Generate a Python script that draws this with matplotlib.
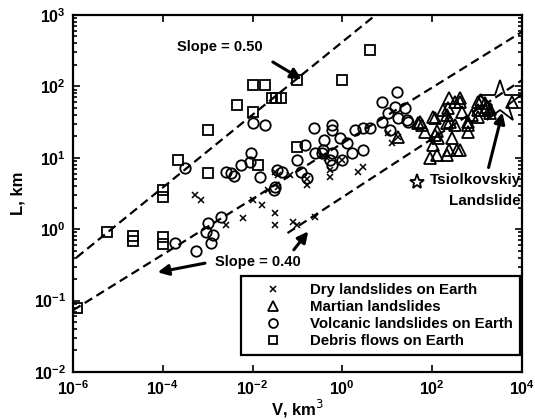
import numpy as np
import matplotlib.pyplot as plt
from matplotlib.ticker import LogLocator, NullLocator, NullFormatter, FixedLocator

plt.rcParams['font.family'] = ['Liberation Sans', 'DejaVu Sans']

# debris flows on Earth (squares)
debris_v = [1.2e-6, 5.7e-6, 2.2e-5, 2.2e-5, 1e-4, 1e-4, 1e-4, 1e-4, 2.2e-4, 1e-3,
            1e-3, 4.5e-3, 1e-2, 1.9e-2, 1e-2, 1.3e-2, 2.7e-2, 3.3e-2, 4.2e-2, 0.1,
            0.1, 1.0, 4.1]
debris_l = [0.08, 0.9, 0.8, 0.68, 0.78, 0.62, 3.5, 2.8, 9.3, 24.5,
            6.2, 55, 105, 105, 44, 8, 69, 69, 69, 124,
            14, 124, 325]

# volcanic landslides on Earth (circles)
volc_v = [1.9e-4, 3.1e-4, 5.5e-4, 9e-4, 1e-3, 1.3e-3, 1.2e-3, 2e-3, 3.3e-3, 3.8e-3,
          5.5e-3, 8.7e-3, 9e-3, 1e-2, 1.9e-2, 1.5e-2, 2.5e-3, 0.045, 0.032, 0.03,
          0.12, 0.16, 0.1, 0.15, 0.25, 0.37, 0.38, 0.6, 0.23, 0.36,
          0.6, 16.6, 7.6, 14.8, 24.5, 10.5, 7.6, 17.4, 27.5, 11.5,
          2.9, 1.9, 4.1, 0.59, 0.9, 1.26, 2.9, 1.6, 0.59, 0.98,
          0.52, 0.035, 28.8]
volc_l = [0.65, 7.2, 0.49, 0.91, 1.23, 0.83, 0.65, 1.48, 6.2, 5.6,
          8.0, 8.8, 11.6, 31, 29, 5.3, 6.3, 6.3, 3.9, 3.5,
          6.3, 5.2, 9.3, 15, 11.7, 13, 18, 29, 26, 11.7,
          8.0, 83, 60, 51, 50, 43, 32, 36, 34, 24.6,
          26, 24.5, 26, 24.5, 19, 16, 13, 11.7, 11.7, 9.3,
          9.3, 6.8, 32]

# dry landslides on Earth (crosses)
dry_v = [5.2e-4, 7e-4, 2.6e-3, 6.2e-3, 1.6e-2, 1e-2, 0.032, 0.032, 0.08, 0.1,
         0.25, 0.022, 0.037, 0.032, 0.037, 0.068, 0.16, 0.16, 0.45, 0.39,
         2.2, 2.9, 12.5, 10.5, 17.4, 0.52, 0.98, 0.52]
dry_l = [3.0, 2.6, 1.15, 1.45, 2.2, 2.6, 1.7, 1.15, 1.26, 1.15,
         1.48, 3.5, 3.9, 6.3, 5.8, 5.8, 4.2, 5.0, 10, 10.5,
         6.3, 7.5, 16, 22, 19.5, 6.8, 9.3, 5.3]

# Martian landslides (triangles)
mars_v = [48, 69, 105, 105, 135, 174, 214, 275, 129, 214,
          355, 417, 316, 417, 457, 776, 631, 631, 1047, 1047,
          1514, 1950, 1660, 224, 126, 89, 117, 214, 316, 251,
          115, 240, 417, 631, 1047, 1514, 1250, 1950, 6000, 17.4,
          54, 60, 240]
mars_l = [31, 23, 37, 15, 19, 46, 31, 19, 11, 11,
          13, 13, 60, 69, 44, 40, 29, 23, 60, 47,
          58, 42, 51, 50, 24, 10, 36, 40, 29, 32,
          21, 69, 60, 32, 37, 47, 64, 48, 60, 19.5,
          32, 29, 13]

tsiol_v = [3200]
tsiol_l = [60]

x_ticks = [1e-6, 1e-4, 1e-2, 1e0, 1e2, 1e4]
y_ticks = [1e-2, 1e-1, 1e0, 1e1, 1e2, 1e3]

# fitted trend lines: (V range, prefactor, exponent)
fit_upper = ([1.2e-6, 6.5], 420.0, 0.51)
fit_mid = ([1e-6, 1e4], 16.0, 0.39)
fit_low = ([0.06, 1e4], 2.8, 0.41)

fig = plt.figure(figsize=(5.35, 4.19), dpi=100)
ax = fig.add_axes([0.1364, 0.1122, 0.8393, 0.852])

mk = dict(linestyle='none', markerfacecolor='none', markeredgecolor='black',
          markeredgewidth=1.3)
h_dry, = ax.plot(dry_v, dry_l, marker='x', markersize=5, color='black', linestyle='none',
                 markeredgewidth=1.1, label='Dry landslides on Earth')
h_mars, = ax.plot(mars_v, mars_l, marker='^', markersize=9, label='Martian landslides', **mk)
h_volc, = ax.plot(volc_v, volc_l, marker='o', markersize=7.5,
                  label='Volcanic landslides on Earth', **mk)
h_deb, = ax.plot(debris_v, debris_l, marker='s', markersize=7.5,
                 label='Debris flows on Earth', **mk)
ax.plot(tsiol_v, tsiol_l, marker='*', markersize=32, **mk)

for vr, a, b in (fit_upper, fit_mid, fit_low):
    vv = np.logspace(np.log10(vr[0]), np.log10(vr[1]), 50)
    ax.plot(vv, a * vv ** b, linestyle=(0, (4, 2.2)), color='black', linewidth=1.6)

ax.set_xscale('log')
ax.set_yscale('log')
ax.set_xlim(1e-6, 1e4)
ax.set_ylim(1e-2, 1e3)
ax.xaxis.set_major_locator(FixedLocator(x_ticks))
ax.xaxis.set_minor_locator(NullLocator())
ax.yaxis.set_major_locator(FixedLocator(y_ticks))
ax.yaxis.set_minor_locator(LogLocator(base=10, subs=np.arange(2, 10)))
ax.yaxis.set_minor_formatter(NullFormatter())
ax.tick_params(which='both', direction='in', top=True, right=True, width=1.2)
ax.tick_params(which='major', length=5, labelsize=11.5, pad=5)
ax.tick_params(which='minor', length=3)
for s in ax.spines.values():
    s.set_linewidth(1.6)
for t in ax.get_xticklabels() + ax.get_yticklabels():
    t.set_fontweight('bold')

ax.set_xlabel('V, km$^3$', fontsize=12, fontweight='bold', labelpad=0)
ax.set_ylabel('L, km', fontsize=12, fontweight='bold', labelpad=6)

arrow = dict(arrowstyle='-|>', color='black', lw=2.2, mutation_scale=16)
ax.text(1.9e-3, 355, 'Slope = 0.50', fontsize=10.5, fontweight='bold', ha='center', va='center')
ax.annotate('', xy=(0.14, 120), xytext=(0.025, 230), arrowprops=arrow)
ax.text(1.3e-2, 0.35, 'Slope = 0.40', fontsize=10.5, fontweight='bold', ha='center', va='center',
        zorder=5)
ax.annotate('', xy=(6.7e-5, 0.245), xytext=(1e-3, 0.34), arrowprops=arrow)
ax.annotate('', xy=(0.19, 1.0), xytext=(0.076, 0.48), arrowprops=arrow)
ax.annotate('', xy=(3800, 47), xytext=(1740, 6.7), arrowprops=arrow)
ax.plot([45], [4.6], marker='*', markersize=11, **mk)
ax.text(1e4 * 0.95, 4.9, 'Tsiolkovskiy', fontsize=11, fontweight='bold', ha='right', va='center')
ax.text(1e4 * 0.95, 2.5, 'Landslide', fontsize=11, fontweight='bold', ha='right', va='center')

leg = ax.legend(handles=[h_dry, h_mars, h_volc, h_deb], loc='lower right',
                bbox_to_anchor=(0.995, 0.048), fontsize=10.8, frameon=True,
                fancybox=False, edgecolor='black', framealpha=1,
                handlelength=3.4, handletextpad=0.8, borderpad=0.45, labelspacing=0.2,
                markerscale=0.85, borderaxespad=0)
leg.get_frame().set_linewidth(1.6)
leg.set_zorder(4)
for t in leg.get_texts():
    t.set_fontweight('bold')

fig.savefig('out.png', dpi=100)
